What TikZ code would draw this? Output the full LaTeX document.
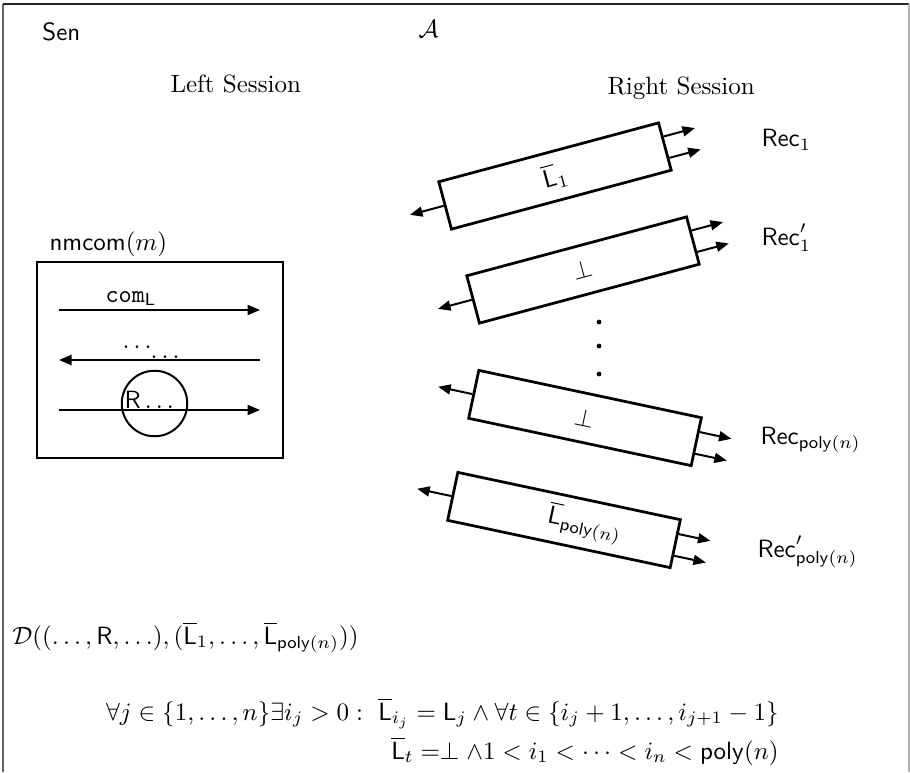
\documentclass[tikz,border=0pt]{standalone}
\usepackage{amsmath,amssymb}
\usepackage{tikz}
\usetikzlibrary{arrows.meta,calc}
\tikzset{
  ar/.style={-{Triangle[length=5pt,width=4pt]}, line width=0.8pt},
  txt/.style={inner sep=0pt, anchor=base west},
  frm/.style={line width=0.5pt}
}
\begin{document}
\begin{tikzpicture}[
  x=0.4pt, y=-0.4pt,
  sbox/.style={rectangle, draw, line width=1.1pt, minimum width=91pt,
               minimum height=19.6pt, inner sep=0pt},
  nmbox/.style={rectangle, draw, line width=1.1pt, minimum width=98.4pt,
                minimum height=78.4pt, inner sep=0pt},
  ball/.style={circle, draw, line width=0.8pt, minimum size=26.2pt, inner sep=0pt},
  vdot/.style={circle, fill, minimum size=1.9pt, inner sep=0pt}
]
\useasboundingbox (0,0) rectangle (910,772);
% ---- frame ----
\draw[frm, black!60] (3,772) -- (3,4);
\draw[frm, black!85] (3,4) -- (909,4);
\draw[frm, black!30] (909,4) -- (909,772);
% ---- titles ----
\node[txt] (sen) at (42,41) {$\mathsf{Sen}$};
\node[txt] (adv) at (418,38) {$\mathcal{A}$};
\node[txt] (lses) at (170,93) {Left Session};
\node[txt] (rses) at (607,95) {Right Session};
% ---- LEFT: nmcom ----
\node[txt] (nmt) at (49,250) {$\mathsf{nmcom}(m)$};
\node[nmbox] (nm) at (160,360) {};
\coordinate (a1s) at (59,310);
\coordinate (a1e) at (260,310);
\coordinate (a2s) at (260,360);
\coordinate (a2e) at (59,360);
\coordinate (a3s) at (59,410);
\coordinate (a3e) at (260,410);
\node[txt] (coml) at (105,302) {$\mathtt{com}_{\mathsf{L}}$};
\draw[ar] (a1s) -- (a1e);
\node[txt] (dots1) at (122,348) {$\ldots$};
\node[txt] (dots2) at (150,358) {$\ldots$};
\draw[ar] (a2s) -- (a2e);
\node[ball] (rc) at (154.5,403.5) {};
\node[txt] (rdots) at (124,408) {$\mathsf{R}\ldots$};
\draw[ar] (a3s) -- (a3e);
% ---- RIGHT: sessions ----
\node[sbox, rotate=15] (b1) at (555,176) {$\overline{\mathsf{L}}_1$};
\node[sbox, rotate=15] (b2) at (583,270) {$\perp$};
\node[sbox, rotate=-12] (b3) at (585,418) {$\perp$};
\node[sbox, rotate=-12] (b4) at (564,520) {};
\node[rotate=-12, inner sep=0pt] (l4) at (585,524) {$\overline{\mathsf{L}}_{\mathsf{poly}(n)}$};
\node[vdot] (v1) at (599,322) {};
\node[vdot] (v2) at (599,346) {};
\node[vdot] (v3) at (599,374) {};
\coordinate (b1l) at ($(b1.west)!-14pt!(b1.east)$);
\coordinate (b1r) at ($(b1.5)!-13pt!(b1.175)$);
\coordinate (b1s) at ($(b1.-6)!-13pt!(b1.-174)$);
\coordinate (b2l) at ($(b2.west)!-14pt!(b2.east)$);
\coordinate (b2r) at ($(b2.5)!-13pt!(b2.175)$);
\coordinate (b2s) at ($(b2.-6)!-13pt!(b2.-174)$);
\coordinate (b3l) at ($(b3.west)!-14pt!(b3.east)$);
\coordinate (b3r) at ($(b3.5)!-13pt!(b3.175)$);
\coordinate (b3s) at ($(b3.-6)!-13pt!(b3.-174)$);
\coordinate (b4l) at ($(b4.west)!-14pt!(b4.east)$);
\coordinate (b4r) at ($(b4.5)!-13pt!(b4.175)$);
\coordinate (b4s) at ($(b4.-6)!-13pt!(b4.-174)$);
\draw[ar] (b1.west) -- (b1l);
\draw[ar] (b1.5) -- (b1r);
\draw[ar] (b1.-6) -- (b1s);
\draw[ar] (b2.west) -- (b2l);
\draw[ar] (b2.5) -- (b2r);
\draw[ar] (b2.-6) -- (b2s);
\draw[ar] (b3.west) -- (b3l);
\draw[ar] (b3.5) -- (b3r);
\draw[ar] (b3.-6) -- (b3s);
\draw[ar] (b4.west) -- (b4l);
\draw[ar] (b4.5) -- (b4r);
\draw[ar] (b4.-6) -- (b4s);
\node[txt] (rec1) at (761,147) {$\mathsf{Rec}_1$};
\node[txt] (rec1p) at (761,245) {$\mathsf{Rec}'_1$};
\node[txt] (recp) at (760,444) {$\mathsf{Rec}_{\mathsf{poly}(n)}$};
\node[txt] (recpp) at (757,557) {$\mathsf{Rec}'_{\mathsf{poly}(n)}$};
% ---- bottom: distinguisher ----
\node[txt] (dist) at (12,644) {$\mathcal{D}((\ldots,\mathsf{R},\ldots),(\overline{\mathsf{L}}_1,\ldots,\overline{\mathsf{L}}_{\mathsf{poly}(n)}))$};
\node[inner sep=0pt, anchor=base east] (cond1) at (779,720) {$\forall j\in\{1,\ldots,n\}\exists i_j>0:\ \overline{\mathsf{L}}_{i_j}=\mathsf{L}_j\wedge\forall t\in\{i_j+1,\ldots,i_{j+1}-1\}$};
\node[inner sep=0pt, anchor=base east] (cond2) at (779,759) {$\overline{\mathsf{L}}_t=\perp\wedge 1<i_1<\cdots<i_n<\mathsf{poly}(n)$};
\end{tikzpicture}
\end{document}
